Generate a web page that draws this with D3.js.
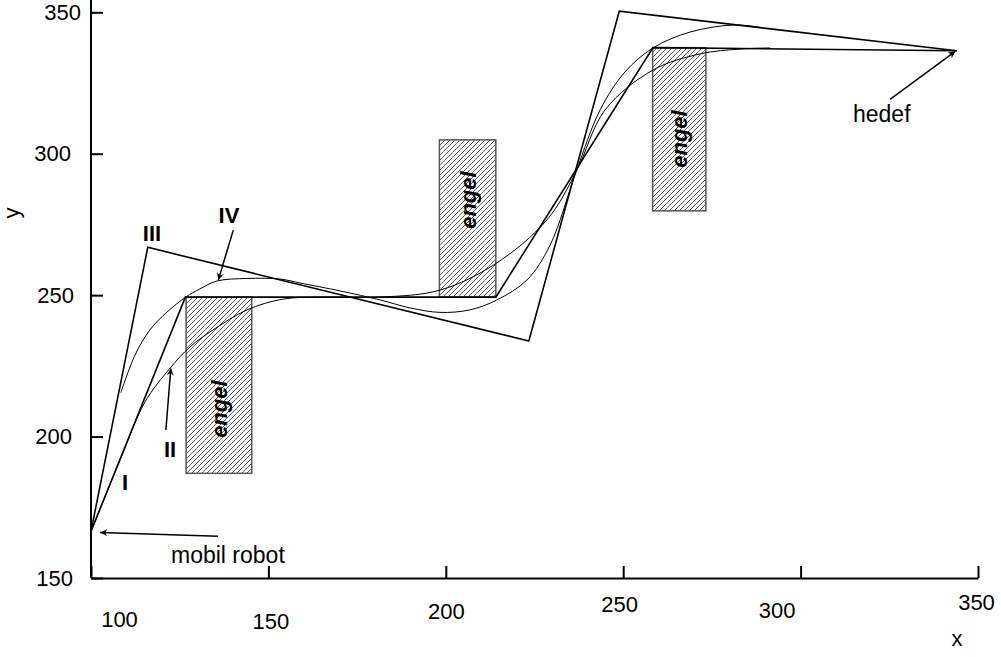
<!DOCTYPE html>
<html>
<head>
<meta charset="utf-8">
<script src="https://cdn.jsdelivr.net/npm/d3@7"></script>
<style>
  body { margin: 0; background: #fff; }
  svg { display: block; font-family: "Liberation Sans", Arial, sans-serif; }
</style>
</head>
<body>
<svg id="chart"></svg>
<script>
var width = 1001;
var height = 657;

// axis ticks
var xTicks = [100, 150, 200, 250, 300, 350];
var yTicks = [150, 200, 250, 300, 350];

// start and target
var robot = [100, 166.5];
var target = [344, 336.4];

// path I : straight path along obstacle corners
var pathI = [[100, 166.5], [126.6, 249.3], [214.1, 249.3], [258.4, 337.5], [344, 336.4]];

// path III : control polygon
var pathIII = [[100, 166.5], [116.0, 266.9], [223.4, 233.8], [248.9, 350.4], [344, 336.4]];

// curve II : smoothed path I
var curveII = [[100, 166.5], [108.2, 191.7], [115.2, 212.2], [122.3, 224.2], [127.9, 231.7],
  [134.4, 237.7], [144.0, 244.8], [154.1, 248.6], [164.5, 249.3], [181.5, 249.3],
  [198.4, 251.8], [213.9, 261.0], [228.5, 276.6], [236.7, 293.5], [244.9, 315.5],
  [258.4, 329.6], [271.7, 335.3], [282.9, 337.0], [291.4, 337.4]];

// curve IV : smoothed path III
var curveIV = [[108.4, 215.5], [112.4, 228.8], [116.6, 237.7], [121.4, 244.0], [126.8, 249.4],
  [130.7, 252.2], [135.5, 255.0], [144.0, 255.9], [153.3, 255.7], [158.9, 254.3],
  [170.2, 251.5], [181.5, 248.3], [189.9, 245.5], [198.4, 243.9], [206.8, 244.8],
  [214.4, 248.3], [222.9, 255.4], [229.4, 267.7], [236.7, 293.5], [243.5, 315.5],
  [250.5, 328.9], [258.4, 337.4], [268.8, 343.0], [281.0, 345.5], [288.6, 344.7]];

// obstacles (engel): [x0, x1, y0, y1]
var obstacles = [[126.8, 145.3, 187.0, 249.3], [198.2, 214.1, 249.3, 304.9], [258.3, 273.3, 279.8, 337.5]];
var obstacleLabelY = [209.7, 283.6, 305.2];

// roman labels: [text, x, y]
var romanLabels = [["I", 109.6, 184.0], ["II", 122.3, 195.6], ["III", 117.2, 272.0], ["IV", 138.9, 278.3]];

// arrows: [x from, y from, x to, y to]
var arrows = [[135.8, 164.8, 102.6, 166.1], [121.1, 202.3, 122.5, 224.1],
  [140.1, 273.0, 135.9, 255.4], [325.2, 319.2, 343.6, 336.2]];

var x = d3.scaleLinear().domain([100, 350]).range([91, 978]);
var y = d3.scaleLinear().domain([150, 350]).range([578, 12.3]);

var svg = d3.select('#chart')
    .attr('width', width)
    .attr('height', height);

var defs = svg.append('defs');
var pat = defs.append('pattern')
    .attr('id', 'hatch')
    .attr('patternUnits', 'userSpaceOnUse')
    .attr('width', 5)
    .attr('height', 5);
pat.append('rect').attr('width', 5).attr('height', 5).attr('fill', 'white');
pat.append('path')
    .attr('d', 'M-1,1 l2,-2 M0,5 l5,-5 M4,6 l2,-2')
    .attr('stroke', '#333')
    .attr('stroke-width', 0.8);

defs.append('marker')
    .attr('id', 'head')
    .attr('viewBox', '0 -5 10 10')
    .attr('refX', 10)
    .attr('refY', 0)
    .attr('markerWidth', 7)
    .attr('markerHeight', 7)
    .attr('markerUnits', 'userSpaceOnUse')
    .attr('orient', 'auto')
  .append('path')
    .attr('d', 'M0,-5L10,0L0,5L3,0Z')
    .attr('fill', 'black');

// obstacles
var obs = svg.append('g').selectAll('g')
    .data(obstacles)
  .enter().append('g');
obs.append('rect')
    .attr('x', function(d) { return x(d[0]); })
    .attr('y', function(d) { return y(d[3]); })
    .attr('width', function(d) { return x(d[1]) - x(d[0]); })
    .attr('height', function(d) { return y(d[2]) - y(d[3]); })
    .attr('fill', 'url(#hatch)')
    .attr('stroke', '#555')
    .attr('stroke-width', 1.5);
obs.append('text')
    .attr('transform', function(d, i) {
      return 'translate(' + (x((d[0] + d[1]) / 2) + 8) + ',' + y(obstacleLabelY[i]) + ') rotate(-90)';
    })
    .attr('text-anchor', 'middle')
    .attr('font-size', 22)
    .attr('font-weight', 'bold')
    .attr('font-style', 'italic')
    .text('engel');

var straight = d3.line()
    .x(function(d) { return x(d[0]); })
    .y(function(d) { return y(d[1]); });
var smooth = d3.line()
    .x(function(d) { return x(d[0]); })
    .y(function(d) { return y(d[1]); })
    .curve(d3.curveCatmullRom.alpha(0.5));

svg.append('path').datum(curveII)
    .attr('d', smooth).attr('fill', 'none').attr('stroke', 'black').attr('stroke-width', 1);
svg.append('path').datum(curveIV)
    .attr('d', smooth).attr('fill', 'none').attr('stroke', 'black').attr('stroke-width', 1);
svg.append('path').datum(pathI)
    .attr('d', straight).attr('fill', 'none').attr('stroke', 'black').attr('stroke-width', 1.6);
svg.append('path').datum(pathIII)
    .attr('d', straight).attr('fill', 'none').attr('stroke', 'black').attr('stroke-width', 1.6);

// arrows
svg.append('g').selectAll('line')
    .data(arrows)
  .enter().append('line')
    .attr('x1', function(d) { return x(d[0]); })
    .attr('y1', function(d) { return y(d[1]); })
    .attr('x2', function(d) { return x(d[2]); })
    .attr('y2', function(d) { return y(d[3]); })
    .attr('stroke', 'black')
    .attr('stroke-width', 1.5)
    .attr('marker-end', 'url(#head)');

// roman numerals
svg.append('g').selectAll('text')
    .data(romanLabels)
  .enter().append('text')
    .attr('x', function(d) { return x(d[1]); })
    .attr('y', function(d) { return y(d[2]); })
    .attr('dy', '0.35em')
    .attr('text-anchor', 'middle')
    .attr('font-size', 22)
    .attr('font-weight', 'bold')
    .text(function(d) { return d[0]; });

svg.append('text')
    .attr('x', x(robot[0]) + 80).attr('y', 563)
    .attr('font-size', 23)
    .text('mobil robot');
svg.append('text')
    .attr('x', 853).attr('y', 122)
    .attr('font-size', 23)
    .text('hedef');

// axes
var yAxis = d3.axisLeft(y)
    .tickValues(yTicks)
    .tickSizeInner(-12)
    .tickSizeOuter(0)
    .tickPadding(10);
var gy = svg.append('g')
    .attr('transform', 'translate(' + x(100) + ',0)')
    .call(yAxis);
gy.select('.domain').attr('d', 'M0,' + y(150) + 'V0');

var yLabelShift = [-8, -9, -7, -10, 0];
gy.selectAll('.tick text')
    .attr('transform', function(d, i) { return 'translate(' + yLabelShift[i] + ',0)'; });

var xAxis = d3.axisBottom(x)
    .tickValues(xTicks)
    .tickSizeInner(-12)
    .tickSizeOuter(0)
    .tickPadding(26);
var gx = svg.append('g')
    .attr('transform', 'translate(0,' + y(150) + ')')
    .call(xAxis);

var xLabelShift = [[28, 33], [2, 35], [0, 25], [-4, 18], [-24, 24], [-2, 16]];
gx.selectAll('.tick text')
    .attr('transform', function(d, i) { return 'translate(' + xLabelShift[i][0] + ',' + (xLabelShift[i][1] - 26) + ')'; });

svg.selectAll('.domain').attr('stroke', 'black').attr('stroke-width', 2);
svg.selectAll('.tick line').attr('stroke', 'black').attr('stroke-width', 2);
svg.selectAll('.tick text')
    .attr('font-family', '"Liberation Sans", Arial, sans-serif')
    .attr('font-size', 22)
    .attr('fill', 'black');

svg.append('text')
    .attr('x', 957).attr('y', 646)
    .attr('text-anchor', 'middle')
    .attr('font-size', 22)
    .text('x');
svg.append('text')
    .attr('transform', 'translate(19,213) rotate(-90)')
    .attr('text-anchor', 'middle')
    .attr('font-size', 22)
    .text('y');
</script>
</body>
</html>
